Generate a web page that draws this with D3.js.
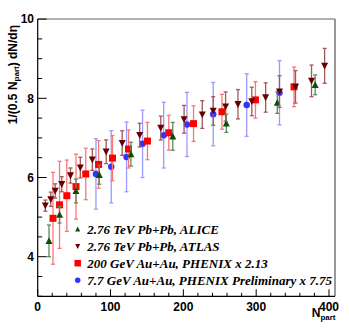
<!DOCTYPE html>
<html>
<head>
<meta charset="utf-8">
<script src="https://cdn.jsdelivr.net/npm/d3@7"></script>
<style>
  body { margin: 0; background: #fff; }
  svg { display: block; }
</style>
</head>
<body>
<script>
// ALICE 2.76 TeV Pb+Pb
var aliceNpart = [15.5, 30, 52.5, 84.5, 128, 185.5, 259, 329, 381];
var aliceVal   = [4.40, 5.06, 5.66, 6.07, 6.59, 7.04, 7.37, 7.89, 8.34];
var aliceErr   = [0.40, 0.21, 0.30, 0.24, 0.30, 0.35, 0.23, 0.27, 0.25];

// ATLAS 2.76 TeV Pb+Pb
var atlasNpart = [10.5, 18, 24, 33, 45, 58.5, 75, 94, 116, 140, 169, 201, 226, 241, 258, 275, 294, 313, 332, 354, 376, 394];
var atlasVal   = [5.29, 5.45, 5.66, 5.83, 6.05, 6.25, 6.45, 6.65, 6.87, 7.07, 7.25, 7.47, 7.59, 7.68, 7.79, 7.85, 7.92, 8.02, 8.17, 8.29, 8.44, 8.82];
var atlasErr   = [0.14, 0.18, 0.18, 0.19, 0.19, 0.26, 0.27, 0.30, 0.31, 0.30, 0.30, 0.35, 0.35, 0.36, 0.37, 0.37, 0.36, 0.37, 0.40, 0.41, 0.40, 0.44];

// PHENIX 200 GeV Au+Au x 2.13
var phenixNpart = [21, 30, 40, 52.6, 66, 83.6, 102.7, 124.7, 150.7, 180, 214, 253, 299, 352];
var phenixVal   = [4.97, 5.31, 5.54, 5.77, 6.09, 6.33, 6.49, 6.72, 6.92, 7.13, 7.36, 7.66, 7.96, 8.29];
var phenixErr   = [1.16, 1.10, 0.90, 0.82, 0.65, 0.60, 0.57, 0.48, 0.47, 0.44, 0.45, 0.44, 0.46, 0.50];

// PHENIX preliminary 7.7 GeV Au+Au x 7.75
var lowNpart = [80, 101, 122, 144, 173, 205, 241, 287, 332];
var lowVal   = [6.09, 6.27, 6.52, 6.85, 7.07, 7.34, 7.60, 7.83, 8.14];
var lowErr   = [0.89, 0.91, 0.88, 0.85, 0.83, 0.81, 0.80, 0.79, 0.81];

var legendLabels = [
    "2.76 TeV Pb+Pb, ALICE",
    "2.76 TeV Pb+Pb, ATLAS",
    "200 GeV Au+Au, PHENIX x 2.13",
    "7.7 GeV Au+Au, PHENIX Preliminary x 7.75"
];

var xTicks = [0, 100, 200, 300, 400];
var yTicks = [4, 6, 8, 10];

window.onload = function() {

    function getConfig() {
        var width = 349;
        var height = 331;
        var svg = d3.select("body").append("svg")
            .attr("width", width)
            .attr("height", height);
        return { width, height, svg };
    }

    function getScales() {
        var xScale = d3.scaleLinear().domain([0, 400]).range([37.7, 329]);
        var yScale = d3.scaleLinear().domain([3, 10]).range([296.3, 19.1]);
        return { xScale, yScale };
    }

    function drawAxes(scales, config) {
        var { xScale, yScale } = scales;
        var svg = config.svg;
        var x0 = xScale(0), x1 = 335, y0 = yScale(3), y1 = yScale(10);
        var font = "'Liberation Sans', Arial, sans-serif";

        // frame
        svg.append("line").attr("x1", x0).attr("x2", x1).attr("y1", y1).attr("y2", y1)
            .attr("stroke", "#999").attr("stroke-width", 1.5);
        svg.append("line").attr("x1", x1).attr("x2", x1).attr("y1", y1).attr("y2", y0)
            .attr("stroke", "#555").attr("stroke-width", 1.2);

        // x ticks (inside)
        var xt = svg.append("g");
        d3.range(0, 401, 20).forEach(v => {
            var len = v % 100 === 0 ? 7 : 3.5;
            xt.append("line")
                .attr("x1", xScale(v)).attr("x2", xScale(v))
                .attr("y1", y0).attr("y2", y0 - len)
                .attr("stroke", "#000").attr("stroke-width", 1);
        });
        xt.selectAll("text").data(xTicks).enter().append("text")
            .attr("x", d => xScale(d))
            .attr("y", 310.5)
            .attr("text-anchor", "middle")
            .style("font-family", font).style("font-weight", "bold").style("font-size", "12px")
            .text(d => d);

        // y ticks (inside)
        var yt = svg.append("g");
        d3.range(3, 10.01, 0.5).forEach(v => {
            var len = v % 2 === 0 ? 9 : 4.5;
            yt.append("line")
                .attr("x1", x0).attr("x2", x0 + len)
                .attr("y1", yScale(v)).attr("y2", yScale(v))
                .attr("stroke", "#000").attr("stroke-width", 1);
        });
        yt.selectAll("text").data(yTicks).enter().append("text")
            .attr("x", 34)
            .attr("y", d => yScale(d) + 4.3)
            .attr("text-anchor", "end")
            .style("font-family", font).style("font-weight", "bold").style("font-size", "12px")
            .text(d => d);

        // axis lines
        svg.append("line").attr("x1", x0).attr("x2", x1).attr("y1", y0).attr("y2", y0)
            .attr("stroke", "#000").attr("stroke-width", 1.2);
        svg.append("line").attr("x1", x0).attr("x2", x0).attr("y1", y1).attr("y2", y0)
            .attr("stroke", "#000").attr("stroke-width", 1.2);

        // x title
        var xl = svg.append("text")
            .attr("x", 335.5).attr("y", 317)
            .attr("text-anchor", "end")
            .style("font-family", font).style("font-weight", "bold").style("font-size", "12px");
        xl.append("tspan").text("N");
        xl.append("tspan").attr("dy", 2.5).style("font-size", "8px").text("part");

        // y title
        var yl = svg.append("text")
            .attr("transform", "translate(16.5,25) rotate(-90)")
            .attr("text-anchor", "end")
            .style("font-family", font).style("font-weight", "bold").style("font-size", "12px");
        yl.append("tspan").text("1/(0.5 N");
        yl.append("tspan").attr("dy", 2.5).style("font-size", "8px").text("part");
        yl.append("tspan").attr("dy", -2.5).text(") dN/d\u03b7");
    }

    function marker(g, type, cx, cy, color, s) {
        if (type === "circle") {
            g.append("circle").attr("cx", cx).attr("cy", cy).attr("r", s * 0.5).attr("fill", color);
        } else if (type === "square") {
            g.append("rect").attr("x", cx - s / 2).attr("y", cy - s / 2)
                .attr("width", s).attr("height", s).attr("fill", color);
        } else {
            var h = s * 0.9, w = s / 2;
            var pts = type === "up"
                ? [[cx, cy - h / 2 - 0.5], [cx - w, cy + h / 2], [cx + w, cy + h / 2]]
                : [[cx, cy + h / 2 + 0.5], [cx - w, cy - h / 2], [cx + w, cy - h / 2]];
            g.append("polygon").attr("points", pts.map(p => p.join(",")).join(" ")).attr("fill", color);
        }
    }

    function drawSeries(scales, config, npart, vals, errs, type, color, errColor, size) {
        var { xScale, yScale } = scales;
        var g = config.svg.append("g");
        npart.forEach((n, i) => {
            var cx = xScale(n);
            var top = yScale(vals[i] + errs[i]);
            var bot = yScale(vals[i] - errs[i]);
            g.append("line").attr("x1", cx).attr("x2", cx).attr("y1", top).attr("y2", bot)
                .attr("stroke", errColor).attr("stroke-width", 1.3);
            [top, bot].forEach(yy => {
                g.append("line").attr("x1", cx - 2).attr("x2", cx + 2).attr("y1", yy).attr("y2", yy)
                    .attr("stroke", errColor).attr("stroke-width", 1.3);
            });
        });
        npart.forEach((n, i) => {
            marker(g, type, xScale(n), yScale(vals[i]), color, size);
        });
    }

    function drawLegend(config) {
        var svg = config.svg;
        var types = ["up", "down", "square", "circle"];
        var colors = ["#0b4d0b", "#660000", "#ff0000", "#3333ff"];
        var sizes = [5, 5, 6.5, 5.5];
        var rows = [229.3, 246.2, 263.2, 280.2];
        var g = svg.append("g");
        legendLabels.forEach((label, i) => {
            marker(g, types[i], 77.7, rows[i], colors[i], sizes[i]);
            g.append("text")
                .attr("x", 87.3).attr("y", rows[i] + 4.5)
                .style("font-family", "'Liberation Serif', 'Times New Roman', serif")
                .style("font-weight", "bold").style("font-style", "italic").style("font-size", "13px")
                .text(label);
        });
    }

    var config = getConfig();
    var scales = getScales();
    drawAxes(scales, config);
    drawSeries(scales, config, lowNpart, lowVal, lowErr, "circle", "#3333ff", "#9a9aff", 6.5);
    drawSeries(scales, config, phenixNpart, phenixVal, phenixErr, "square", "#ff0000", "#ff7575", 7);
    drawSeries(scales, config, aliceNpart, aliceVal, aliceErr, "up", "#0b4d0b", "#5f8a5f", 7);
    drawSeries(scales, config, atlasNpart, atlasVal, atlasErr, "down", "#660000", "#a05858", 7);
    drawLegend(config);
};
</script>
</body>
</html>
